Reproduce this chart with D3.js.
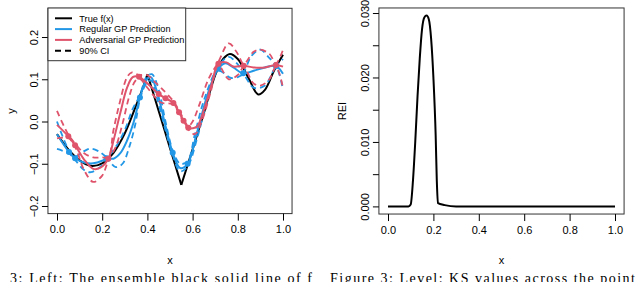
<!DOCTYPE html>
<html>
<head>
<meta charset="utf-8">
<script src="https://cdn.jsdelivr.net/npm/d3@7"></script>
<style>
  body { margin: 0; background: #fff; }
  svg { display: block; }
  text { font-family: "Liberation Sans", Arial, sans-serif; fill: #000; }
</style>
</head>
<body>
<svg id="main" width="640" height="282"></svg>
<script>
// --- data ---
const xTicks = [0, 0.2, 0.4, 0.6, 0.8, 1.0];
const yTicksLeft = [-0.2, -0.1, 0.0, 0.1, 0.2];
const yTicksRight = [0, 0.005, 0.01, 0.015, 0.02, 0.025, 0.03];
const yLabelsRight = [0, 0.01, 0.02, 0.03];

// true function, with its two kinks
const trueF = [[0,-0.03],[0.05,-0.066],[0.1,-0.092],[0.15,-0.105],[0.2,-0.099],[0.25,-0.074],[0.3,-0.028],[0.35,0.038],[0.38,0.08],[0.4,0.112],
  [0.45,0.025],[0.5,-0.063],[0.55,-0.15],
  [0.6,-0.066],[0.65,0.02],[0.7,0.11],[0.735,0.148],[0.765,0.16],[0.8,0.148],[0.85,0.1],[0.89,0.064],[0.92,0.075],[0.96,0.12],[1.0,0.158]];
const trueKinks = [0.4, 0.55];

// regular GP
const gpMean = [[0,-0.03],[0.053,-0.072],[0.08,-0.087],[0.12,-0.097],[0.16,-0.099],[0.2,-0.093],[0.22,-0.087],[0.25,-0.088],[0.28,-0.075],[0.31,-0.045],[0.34,0.0],[0.367,0.057],[0.395,0.098],[0.415,0.105],[0.44,0.075],[0.48,-0.01],[0.512,-0.074],[0.545,-0.11],[0.578,-0.1],[0.62,-0.025],[0.67,0.07],[0.713,0.125],[0.745,0.138],[0.78,0.128],[0.824,0.114],[0.87,0.12],[0.92,0.128],[0.969,0.131],[1.0,0.113]];
const gpUpper = [[0,0.0],[0.053,-0.068],[0.08,-0.083],[0.12,-0.07],[0.15,-0.064],[0.19,-0.072],[0.22,-0.083],[0.26,-0.06],[0.3,-0.02],[0.335,0.03],[0.367,0.062],[0.395,0.105],[0.42,0.112],[0.45,0.075],[0.48,0.0],[0.512,-0.068],[0.545,-0.1],[0.578,-0.094],[0.61,-0.03],[0.65,0.05],[0.713,0.13],[0.76,0.153],[0.8,0.135],[0.824,0.118],[0.86,0.155],[0.9,0.17],[0.94,0.15],[0.969,0.135],[1.0,0.148]];
const gpLower = [[0,-0.065],[0.053,-0.076],[0.08,-0.091],[0.12,-0.115],[0.15,-0.12],[0.19,-0.108],[0.22,-0.091],[0.26,-0.108],[0.29,-0.1],[0.32,-0.06],[0.345,-0.01],[0.367,0.052],[0.39,0.085],[0.415,0.098],[0.44,0.06],[0.48,-0.02],[0.512,-0.08],[0.545,-0.118],[0.578,-0.106],[0.62,-0.04],[0.66,0.04],[0.713,0.12],[0.77,0.103],[0.8,0.105],[0.824,0.11],[0.87,0.08],[0.92,0.085],[0.969,0.127],[1.0,0.075]];
const gpPtsX = [0.053, 0.08, 0.22, 0.367, 0.512, 0.578, 0.713, 0.824, 0.969];
const gpPtsY = [-0.072, -0.087, -0.087, 0.057, -0.074, -0.100, 0.125, 0.114, 0.131];

// adversarial GP
const advMean = [[0,-0.008],[0.05,-0.035],[0.08,-0.056],[0.12,-0.09],[0.16,-0.112],[0.19,-0.11],[0.227,-0.088],[0.25,-0.045],[0.28,0.02],[0.31,0.08],[0.335,0.105],[0.363,0.106],[0.39,0.095],[0.42,0.08],[0.45,0.065],[0.48,0.055],[0.515,0.044],[0.54,0.022],[0.56,0.002],[0.581,-0.015],[0.6,-0.016],[0.62,-0.012],[0.655,0.036],[0.685,0.09],[0.714,0.137],[0.75,0.14],[0.78,0.13],[0.826,0.132],[0.87,0.128],[0.92,0.128],[0.969,0.134],[1.0,0.13]];
const advUpper = [[0,0.025],[0.05,-0.031],[0.08,-0.052],[0.12,-0.075],[0.16,-0.085],[0.2,-0.085],[0.227,-0.084],[0.25,-0.02],[0.28,0.05],[0.31,0.105],[0.33,0.116],[0.363,0.11],[0.4,0.11],[0.43,0.095],[0.46,0.08],[0.515,0.048],[0.54,0.026],[0.56,0.006],[0.581,-0.011],[0.6,0.0],[0.63,0.04],[0.67,0.1],[0.714,0.141],[0.76,0.185],[0.8,0.16],[0.826,0.136],[0.87,0.165],[0.9,0.17],[0.94,0.16],[0.969,0.138],[1.0,0.17]];
const advLower = [[0,-0.04],[0.05,-0.039],[0.08,-0.06],[0.12,-0.115],[0.16,-0.143],[0.2,-0.128],[0.227,-0.092],[0.26,-0.06],[0.29,-0.005],[0.32,0.06],[0.345,0.095],[0.363,0.102],[0.4,0.08],[0.43,0.06],[0.46,0.045],[0.515,0.04],[0.54,0.018],[0.56,-0.002],[0.581,-0.019],[0.61,-0.03],[0.64,0.0],[0.68,0.07],[0.714,0.133],[0.76,0.1],[0.8,0.11],[0.826,0.128],[0.87,0.09],[0.9,0.085],[0.94,0.1],[0.969,0.13],[1.0,0.08]];
const advPtsX = [0.05, 0.08, 0.227, 0.363, 0.45, 0.48, 0.515, 0.54, 0.56, 0.581, 0.714, 0.826, 0.969];
const advPtsY = [-0.035, -0.056, -0.088, 0.106, 0.065, 0.055, 0.044, 0.022, 0.002, -0.015, 0.137, 0.132, 0.134];

// right panel
const reiCurve = [[0,0],[0.09,0],[0.1,0.0003],[0.11,0.004],[0.12,0.01],[0.13,0.017],[0.14,0.023],[0.15,0.0275],[0.16,0.0293],[0.17,0.0296],[0.18,0.029],[0.19,0.026],[0.2,0.02],[0.21,0.011],[0.215,0.004],[0.22,0.0005],[0.25,0.0002],[0.3,0],[1,0]];

const legendLabels = ["True f(x)", "Regular GP Prediction", "Adversarial GP Prediction", "90% CI"];
const captionLeft = "3: Left: The ensemble black solid line of f";
const captionRight = "Figure 3: Level: KS values across the point";

const BLUE = "#2297E6", RED = "#DF536B";

const svg = d3.select('#main');

function panel(x, y, yTicks, yLabelVals, yFmt, ylab) {
  const [x0, x1] = x.range(), [y0, y1] = y.range();
  const ex = (x1 - x0) * 0.04, ey = (y0 - y1) * 0.04;
  svg.append('rect')
    .attr('x', x0 - ex).attr('y', y1 - ey)
    .attr('width', x1 - x0 + 2 * ex).attr('height', y0 - y1 + 2 * ey)
    .attr('fill', 'none').attr('stroke', '#333').attr('stroke-width', 1);

  const gx = svg.append('g').attr('transform', `translate(0,${y0 + ey})`)
    .call(d3.axisBottom(x).tickValues(xTicks).tickSize(7).tickPadding(5).tickFormat(d3.format('.1f')));
  gx.select('.domain').remove();
  gx.selectAll('text').style('font-size', '11px').style('font-family', '"Liberation Sans", Arial, sans-serif');

  const gy = svg.append('g').attr('transform', `translate(${x0 - ex},0)`)
    .call(d3.axisLeft(y).tickValues(yTicks).tickSize(6)
      .tickFormat(d => yLabelVals.some(v => Math.abs(v - d) < 1e-9) ? yFmt(d) : ''));
  gy.select('.domain').remove();
  gy.selectAll('text')
    .attr('x', null).attr('dy', null)
    .attr('text-anchor', 'middle')
    .attr('transform', 'translate(-10,0) rotate(-90)')
    .style('font-size', '11px').style('font-family', '"Liberation Sans", Arial, sans-serif');

  svg.append('text').attr('x', (x0 + x1) / 2).attr('y', 264)
    .attr('text-anchor', 'middle').style('font-size', '11px').text('x');
  svg.append('text')
    .attr('transform', `translate(${x0 - ex - 33},${(y0 + y1) / 2}) rotate(-90)`)
    .attr('text-anchor', 'middle').style('font-size', '11px').text(ylab);
}

// ---------- left panel ----------
const xL = d3.scaleLinear().domain([0, 1]).range([57, 283]);
const yL = d3.scaleLinear().domain([-0.2, 0.25]).range([206, 15.9]);
panel(xL, yL, yTicksLeft, yTicksLeft, d3.format('.1f'), 'y');

const lineL = d3.line().x(d => xL(d[0])).y(d => yL(d[1])).curve(d3.curveCatmullRom.alpha(0.5));

// true f drawn piecewise so the kinks stay sharp
const cuts = [0, ...trueKinks, 1];
for (let i = 0; i < cuts.length - 1; i++) {
  const seg = trueF.filter(d => d[0] >= cuts[i] - 1e-9 && d[0] <= cuts[i + 1] + 1e-9);
  svg.append('path').attr('d', lineL(seg))
    .attr('fill', 'none').attr('stroke', '#000').attr('stroke-width', 2);
}

function gpLayer(mean, lo, hi, px, py, col) {
  [lo, hi].forEach(ci => svg.append('path').attr('d', lineL(ci))
    .attr('fill', 'none').attr('stroke', col).attr('stroke-width', 1.8)
    .attr('stroke-dasharray', '6,4'));
  svg.append('path').attr('d', lineL(mean))
    .attr('fill', 'none').attr('stroke', col).attr('stroke-width', 2);
  svg.append('g').selectAll('circle').data(d3.zip(px, py)).join('circle')
    .attr('cx', d => xL(d[0])).attr('cy', d => yL(d[1])).attr('r', 3)
    .attr('fill', col);
}
gpLayer(gpMean, gpLower, gpUpper, gpPtsX, gpPtsY, BLUE);
gpLayer(advMean, advLower, advUpper, advPtsX, advPtsY, RED);

// legend
const leg = svg.append('g');
leg.append('rect').attr('x', 48).attr('y', 8).attr('width', 137.7).attr('height', 52.7)
  .attr('fill', '#fff').attr('stroke', '#333').attr('stroke-width', 1);
const legCols = ['#000', BLUE, RED, '#000'];
legendLabels.forEach((lab, i) => {
  const yy = 18.3 + i * 10.8;
  leg.append('line').attr('x1', 55).attr('x2', 72).attr('y1', yy).attr('y2', yy)
    .attr('stroke', legCols[i]).attr('stroke-width', 2)
    .attr('stroke-dasharray', i === 3 ? '6,4' : null);
  leg.append('text').attr('x', 79.3).attr('y', yy + 3.3)
    .style('font-size', '9.2px').text(lab);
});

// ---------- right panel ----------
const xR = d3.scaleLinear().domain([0, 1]).range([388, 615]);
const yR = d3.scaleLinear().domain([0, 0.0296]).range([206.4, 15.6]);
panel(xR, yR, yTicksRight, yLabelsRight, d3.format('.3f'), 'REI');

svg.append('path')
  .attr('d', d3.line().x(d => xR(d[0])).y(d => yR(d[1])).curve(d3.curveMonotoneX)(reiCurve))
  .attr('fill', 'none').attr('stroke', '#000').attr('stroke-width', 2);

// caption under the figure, only its top shows in the crop
const capStyle = sel => sel
  .style('font-family', '"Liberation Serif", "DejaVu Serif", serif').style('font-size', '14px')
  .attr('lengthAdjust', 'spacing');
svg.append('text').attr('x', 10).attr('y', 283).attr('textLength', 302).call(capStyle).text(captionLeft);
svg.append('text').attr('x', 330).attr('y', 283).attr('textLength', 305).call(capStyle).text(captionRight);
</script>
</body>
</html>
